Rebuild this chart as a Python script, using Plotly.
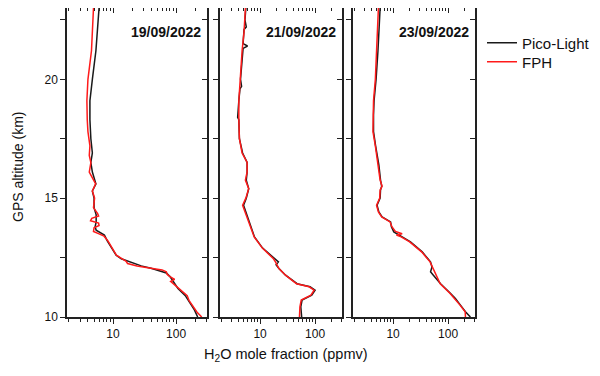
import plotly.graph_objects as go

# ---------------- data ----------------
dates = ["19/09/2022", "21/09/2022", "23/09/2022"]
series_names = ["Pico-Light", "FPH"]

# Panel 1 (19/09/2022)
p1_pico_alt = [23.0, 22.0, 21.2, 20.0, 19.5, 19.1, 18.3, 17.5, 16.9, 16.5, 16.1, 15.6, 15.3, 15.0,
               14.6, 14.3, 14.0, 13.8, 13.65, 13.55, 13.45, 13.2, 12.9, 12.6, 12.45, 12.35, 12.25,
               12.15, 12.05, 11.95, 11.85, 11.7, 11.5, 11.2, 10.9, 10.6, 10.3, 10.0]
p1_pico_val = [6.0, 5.7, 5.35, 4.7, 4.45, 4.3, 4.3, 4.45, 4.7, 4.45, 4.7, 5.35, 4.7, 5.0,
               5.0, 5.4, 5.4, 5.2, 5.4, 6.3, 7.3, 8.1, 9.6, 11.2, 13.5, 17.0, 22.0,
               28.0, 40.0, 55.0, 70.0, 80.0, 90.0, 107.0, 140.0, 165.0, 195.0, 220.0]
p1_fph_alt = [23.0, 22.0, 21.2, 20.0, 19.1, 18.3, 17.8, 17.2, 16.8, 16.5, 16.1, 15.6, 15.3, 15.0,
              14.6, 14.35, 14.25, 14.15, 14.05, 13.95, 13.85, 13.75, 13.6, 13.5, 13.4, 13.2, 12.9,
              12.6, 12.45, 12.35, 12.25, 12.15, 12.05, 11.98, 11.9, 11.8, 11.7, 11.58, 11.5, 11.3,
              11.1, 10.9, 10.7, 10.4, 10.2, 10.0]
p1_fph_val = [4.9, 4.7, 4.55, 4.0, 3.85, 3.9, 4.0, 4.3, 4.2, 4.45, 4.2, 5.3, 4.7, 5.1,
              4.9, 5.7, 5.9, 4.6, 4.4, 5.9, 6.0, 5.0, 4.9, 6.0, 7.2, 8.3, 9.8,
              11.3, 14.0, 16.0, 17.0, 24.0, 40.0, 60.0, 70.0, 72.0, 80.0, 95.0, 82.0, 100.0,
              118.0, 150.0, 160.0, 190.0, 215.0, 255.0]

# Panel 2 (21/09/2022)
p2_pico_alt = [23.0, 22.5, 22.2, 22.1, 21.5, 21.4, 21.3, 20.5, 20.0, 19.7, 19.6, 19.1, 18.4, 18.3,
               17.5, 16.9, 16.5, 16.1, 15.76, 15.4, 15.0, 14.7, 14.37, 13.95, 13.37, 12.9, 12.6,
               12.45, 12.32, 12.2, 12.04, 11.76, 11.4, 11.27, 11.13, 10.92, 10.71, 10.43, 10.0]
p2_pico_val = [5.5, 5.3, 5.6, 5.1, 4.9, 5.9, 4.9, 4.6, 4.4, 4.6, 4.3, 4.1, 3.9, 4.1,
               4.2, 4.8, 5.8, 5.8, 5.6, 6.2, 5.6, 5.0, 5.6, 6.45, 7.9, 11.1, 15.7,
               19.0, 21.5, 19.5, 22.0, 29.0, 47.0, 81.0, 100.0, 87.0, 58.0, 55.0, 57.0]
p2_fph_alt = [23.0, 22.0, 21.2, 20.0, 19.1, 18.3, 17.5, 16.9, 16.5, 16.1, 15.76, 15.4, 15.0, 14.7,
              14.37, 13.95, 13.37, 12.9, 12.6, 12.45, 12.32, 12.2, 12.04, 11.76, 11.4, 11.27, 11.13,
              10.92, 10.71, 10.43, 10.0]
p2_fph_val = [5.4, 5.1, 4.7, 4.4, 4.1, 4.1, 4.2, 4.7, 5.8, 5.8, 5.4, 6.2, 5.5, 4.8,
              5.4, 6.3, 7.8, 11.0, 15.0, 17.5, 19.0, 20.0, 22.0, 29.0, 46.0, 78.0, 96.0,
              84.0, 56.0, 53.0, 52.0]

# Panel 3 (23/09/2022)
p3_pico_alt = [23.0, 22.0, 21.2, 20.0, 19.1, 18.5, 17.8, 17.2, 16.4, 15.76, 15.5, 15.34, 15.0, 14.7,
               14.42, 14.21, 14.0, 13.8, 13.58, 13.37, 13.16, 12.74, 12.32, 12.1, 11.9, 11.76,
               11.4, 11.0, 10.78, 10.5, 10.22, 10.0]
p3_pico_val = [5.8, 5.6, 5.3, 4.9, 4.5, 4.4, 4.4, 4.8, 5.5, 5.9, 6.2, 5.9, 5.8, 5.1,
               5.5, 6.3, 9.0, 9.3, 10.3, 14.6, 20.7, 33.8, 47.9, 51.0, 48.0, 54.0,
               73.0, 110.0, 136.0, 168.0, 207.0, 255.0]
p3_fph_alt = [23.0, 22.0, 21.2, 20.0, 19.1, 18.5, 17.8, 17.2, 16.4, 15.76, 15.5, 15.34, 15.0, 14.7,
              14.42, 14.21, 14.0, 13.8, 13.6, 13.5, 13.45, 13.37, 13.16, 12.74, 12.32, 12.1, 11.9,
              11.76, 11.4, 11.0, 10.78, 10.5, 10.22, 10.0]
p3_fph_val = [5.4, 5.2, 5.1, 4.75, 4.4, 4.3, 4.3, 4.75, 5.4, 5.8, 6.3, 5.8, 5.7, 5.0,
              5.4, 6.2, 8.8, 9.5, 11.0, 14.6, 11.5, 14.0, 20.0, 33.0, 47.0, 52.0, 56.0,
              59.0, 72.0, 108.0, 132.0, 165.0, 205.0, 207.0]

x_major_ticks = [10, 100]
x_major_text = ["10", "100"]
x_minor_ticks = [2, 3, 4, 5, 6, 7, 8, 9, 20, 30, 40, 50, 60, 70, 80, 90, 200, 300]
y_major_ticks = [10, 15, 20]
y_major_text = ["10", "15", "20"]
y_minor_ticks = [12.5, 17.5, 22.5]

panels = [
    (p1_pico_alt, p1_pico_val, p1_fph_alt, p1_fph_val),
    (p2_pico_alt, p2_pico_val, p2_fph_alt, p2_fph_val),
    (p3_pico_alt, p3_pico_val, p3_fph_alt, p3_fph_val),
]

# ---------------- figure ----------------
OFF = 8  # page body margin
W, H = 600 - OFF, 376 - OFF


def fx(px):
    return min(1.0, max(0.0, (px - OFF) / W))


def fy(py):
    return min(1.0, max(0.0, 1 - (py - OFF) / H))


BLACK = "#1a1a1a"
RED = "#ff1a1a"
AX = "#222"
FONT = "Liberation Sans, Arial, sans-serif"
TXT = "#111"

x_domains = [(fx(67), fx(207)), (fx(220), fx(342)), (fx(353), fx(475))]
y_domain = (fy(317), fy(8))
x_range = [0.27, 2.49]
y_range = [10, 23.0]

leg_common = dict(xanchor="left", yanchor="middle",
                  font=dict(size=15, family=FONT, color=TXT),
                  bgcolor="rgba(0,0,0,0)", borderwidth=0, itemwidth=30)

fig = go.Figure()
layout = dict(
    width=W, height=H,
    margin=dict(l=0, r=0, t=0, b=0, autoexpand=False),
    paper_bgcolor="white", plot_bgcolor="white",
    font=dict(family=FONT, size=12, color=TXT),
    showlegend=True,
    legend=dict(x=fx(482), y=fy(43), **leg_common),
    legend2=dict(x=fx(482), y=fy(62), **leg_common),
)

for i, (pa, pv, fa, fv) in enumerate(panels):
    n = i + 1
    xa = "x" if n == 1 else f"x{n}"
    ya = "y" if n == 1 else f"y{n}"
    fig.add_trace(go.Scatter(x=pv, y=pa, mode="lines", name=series_names[0],
                             line=dict(color=BLACK, width=1.5), legend="legend",
                             xaxis=xa, yaxis=ya, showlegend=(n == 1)))
    fig.add_trace(go.Scatter(x=fv, y=fa, mode="lines", name=series_names[1],
                             line=dict(color=RED, width=1.5), legend="legend2",
                             xaxis=xa, yaxis=ya, showlegend=(n == 1)))
    layout[f"xaxis{'' if n == 1 else n}"] = dict(
        domain=list(x_domains[i]), anchor=ya, type="log", range=x_range,
        showgrid=False, zeroline=False, showline=True, linecolor=AX, linewidth=1.5,
        mirror=True, ticks="outside", ticklen=5, tickwidth=1.2, tickcolor=AX,
        tickmode="array", tickvals=x_major_ticks, ticktext=x_major_text,
        tickfont=dict(size=12, family=FONT, color=TXT), automargin=False,
        minor=dict(tickmode="array", tickvals=x_minor_ticks, ticks="outside",
                   ticklen=3, tickwidth=1, tickcolor=AX, showgrid=False),
    )
    layout[f"yaxis{'' if n == 1 else n}"] = dict(
        domain=list(y_domain), anchor=xa, range=y_range,
        showgrid=False, zeroline=False, showline=True, linecolor=AX, linewidth=1.5,
        mirror=True, ticks="outside", ticklen=5, tickwidth=1.2, tickcolor=AX,
        tickmode="array", tickvals=y_major_ticks, ticktext=y_major_text,
        showticklabels=(n == 1), automargin=False,
        tickfont=dict(size=12, family=FONT, color=TXT),
        minor=dict(tickmode="array", tickvals=y_minor_ticks, ticks="outside",
                   ticklen=5, tickwidth=1.2, tickcolor=AX, showgrid=False),
    )
    ox = n + 3
    layout[f"xaxis{ox}"] = dict(
        overlaying=xa, side="top", anchor=ya, type="log", range=x_range,
        showgrid=False, zeroline=False, showline=False, automargin=False,
        ticks="inside", ticklen=5, tickwidth=1.2, tickcolor=AX,
        tickmode="array", tickvals=x_major_ticks, showticklabels=False,
        minor=dict(tickmode="array", tickvals=x_minor_ticks, ticks="inside",
                   ticklen=3, tickwidth=1, tickcolor=AX, showgrid=False),
    )
    layout[f"yaxis{ox}"] = dict(
        overlaying=ya, side="right", anchor=xa, range=y_range,
        showgrid=False, zeroline=False, showline=False, automargin=False,
        ticks="inside", ticklen=5, tickwidth=1.2, tickcolor=AX,
        tickmode="array", tickvals=y_major_ticks, showticklabels=False,
        minor=dict(tickmode="array", tickvals=y_minor_ticks, ticks="inside",
                   ticklen=5, tickwidth=1.2, tickcolor=AX, showgrid=False),
    )
    fig.add_trace(go.Scatter(x=[None], y=[None], xaxis=f"x{ox}", yaxis=ya,
                             showlegend=False, hoverinfo="skip"))
    fig.add_trace(go.Scatter(x=[None], y=[None], xaxis=xa, yaxis=f"y{ox}",
                             showlegend=False, hoverinfo="skip"))

annotations = []
for i, d in enumerate(dates):
    n = i + 1
    xa = "x" if n == 1 else f"x{n}"
    ya = "y" if n == 1 else f"y{n}"
    annotations.append(dict(text=f"<b>{d}</b>", xref=f"{xa} domain", yref=f"{ya} domain",
                            x=0.97, y=0.923, xanchor="right", yanchor="middle",
                            showarrow=False, font=dict(size=14, family=FONT, color=TXT)))
annotations.append(dict(text="GPS altitude (km)", xref="paper", yref="paper",
                        x=fx(18), y=fy(167), textangle=-90, showarrow=False,
                        xanchor="center", yanchor="middle",
                        font=dict(size=14, family=FONT, color=TXT)))
annotations.append(dict(text="H<sub>2</sub>O mole fraction (ppmv)", xref="paper", yref="paper",
                        x=fx(286), y=fy(355), showarrow=False,
                        xanchor="center", yanchor="middle",
                        font=dict(size=14.5, family=FONT, color=TXT)))
layout["annotations"] = annotations

fig.update_layout(**layout)
fig.write_html("out.html")
